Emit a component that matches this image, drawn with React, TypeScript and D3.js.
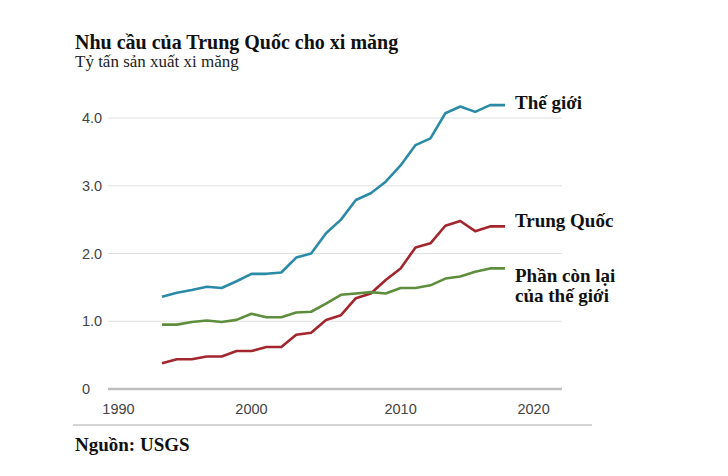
import React, { useEffect, useRef } from "react";
import * as d3 from "d3";

const years: number[] = d3.range(1994, 2018);
const world: number[] = [
  1.36, 1.42, 1.46, 1.51, 1.49, 1.59, 1.7, 1.7, 1.72, 1.94, 2.0, 2.3, 2.5,
  2.79, 2.89, 3.06, 3.3, 3.6, 3.7, 4.07, 4.17, 4.09, 4.19, 4.19,
];
const china: number[] = [
  0.38, 0.44, 0.44, 0.48, 0.48, 0.56, 0.56, 0.62, 0.62, 0.8, 0.83, 1.02, 1.09,
  1.34, 1.41, 1.61, 1.78, 2.09, 2.15, 2.41, 2.48, 2.33, 2.4, 2.4,
];
const restOfWorld: number[] = [
  0.95, 0.95, 0.99, 1.01, 0.99, 1.02, 1.11, 1.06, 1.06, 1.13, 1.14, 1.26, 1.39,
  1.41, 1.43, 1.41, 1.49, 1.49, 1.53, 1.63, 1.66, 1.73, 1.78, 1.78,
];
const yTicks: number[] = [0, 1, 2, 3, 4];
const xTicks: number[] = [1990, 2000, 2010, 2020];

const seriesNames = ["Thế giới", "Trung Quốc", "Phần còn lại\ncủa thế giới"];
const seriesColors = ["#2b8ba6", "#a3262e", "#5e8e3d"];
const seriesValues = [world, china, restOfWorld];

function drawChart(el: SVGSVGElement) {
  const svg = d3.select(el);
  svg.selectAll("*").remove();

  const width = 728,
    height = 476;
  const margin = { top: 118, right: 166, bottom: 87, left: 108 };

  // scales
  const x = d3
    .scaleLinear()
    .domain([1994, 2017])
    .range([162, 505]);
  const y = d3
    .scaleLinear()
    .domain([0, 4])
    .range([height - margin.bottom, margin.top]);

  const serif = "'Liberation Serif', 'Times New Roman', serif";
  const sans = "'Liberation Sans', Arial, sans-serif";

  // title
  svg
    .append("text")
    .attr("x", 75)
    .attr("y", 49)
    .attr("font-family", serif)
    .attr("font-weight", "bold")
    .attr("font-size", 20)
    .attr("fill", "#111")
    .text("Nhu cầu của Trung Quốc cho xi măng");
  svg
    .append("text")
    .attr("x", 75)
    .attr("y", 67)
    .attr("font-family", serif)
    .attr("font-size", 17)
    .attr("fill", "#222")
    .text("Tỷ tấn sản xuất xi măng");

  // gridlines
  svg
    .append("g")
    .selectAll("line")
    .data(yTicks)
    .enter()
    .append("line")
    .attr("x1", margin.left)
    .attr("x2", width - margin.right)
    .attr("y1", (d) => y(d))
    .attr("y2", (d) => y(d))
    .attr("stroke", (d) => (d === 0 ? "#bdbdbd" : "#e0e0e0"))
    .attr("stroke-width", (d) => (d === 0 ? 2.5 : 1.2));

  // y labels
  svg
    .append("g")
    .selectAll("text")
    .data(yTicks)
    .enter()
    .append("text")
    .attr("x", 82)
    .attr("y", (d) => y(d))
    .attr("dy", "0.35em")
    .attr("font-family", sans)
    .attr("font-size", 14.5)
    .attr("fill", "#444")
    .text((d) => (d === 0 ? "0" : d3.format(".1f")(d)));

  // x labels
  svg
    .append("g")
    .selectAll("text")
    .data(xTicks)
    .enter()
    .append("text")
    .attr("x", (d) => x(d))
    .attr("y", 409)
    .attr("dy", "0.35em")
    .attr("text-anchor", (d, i) =>
      i === 0 ? "start" : i === xTicks.length - 1 ? "end" : "middle"
    )
    .attr("font-family", sans)
    .attr("font-size", 14.5)
    .attr("fill", "#444")
    .text((d) => d);

  // lines
  const line = d3
    .line<number>()
    .x((d, i) => x(years[i]))
    .y((d) => y(d));

  seriesValues.forEach((vals, k) => {
    svg
      .append("path")
      .datum(vals)
      .attr("d", line)
      .attr("fill", "none")
      .attr("stroke", seriesColors[k])
      .attr("stroke-width", 2.6)
      .attr("stroke-linejoin", "round");
  });

  // series labels
  const labelY = [109, 227, 282];
  seriesNames.forEach((name, k) => {
    const t = svg
      .append("text")
      .attr("x", 515)
      .attr("y", labelY[k])
      .attr("font-family", serif)
      .attr("font-weight", "bold")
      .attr("font-size", 19)
      .attr("fill", "#111");
    name.split("\n").forEach((part, j) => {
      t.append("tspan")
        .attr("x", 515)
        .attr("dy", j === 0 ? 0 : 20)
        .text(part);
    });
  });

  // bottom rule and source
  svg
    .append("line")
    .attr("x1", 73)
    .attr("x2", 592)
    .attr("y1", 425)
    .attr("y2", 425)
    .attr("stroke", "#aaa")
    .attr("stroke-width", 1.2);
  svg
    .append("text")
    .attr("x", 75)
    .attr("y", 451)
    .attr("font-family", serif)
    .attr("font-weight", "bold")
    .attr("font-size", 19)
    .attr("fill", "#111")
    .text("Nguồn: USGS");
}

export default function App() {
  const ref = useRef<SVGSVGElement>(null);
  useEffect(() => {
    if (ref.current) drawChart(ref.current);
  }, []);
  return (
    <svg
      ref={ref}
      width={728}
      height={476}
      style={{ position: "absolute", left: 0, top: 0, background: "#fff" }}
    />
  );
}
